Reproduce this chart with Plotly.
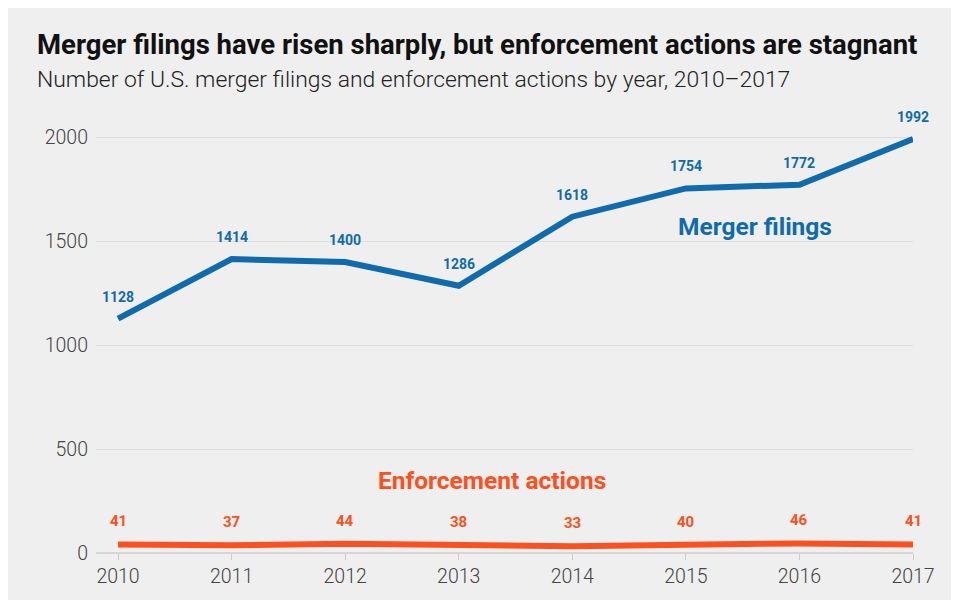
import plotly.graph_objects as go

years = [2010, 2011, 2012, 2013, 2014, 2015, 2016, 2017]
merger_filings = [1128, 1414, 1400, 1286, 1618, 1754, 1772, 1992]
enforcement_actions = [41, 37, 44, 38, 33, 40, 46, 41]
y_ticks = [0, 500, 1000, 1500, 2000]

BLUE = "#106bad"
ORANGE = "#fc5020"
FONT = "Roboto"
BG = "#efefef"

# figure-pixel geometry (page is offset by 8px body margin)
FIG_W, FIG_H = 960, 592
L, T = 88, 102
W_PLOT, H_PLOT = 817, 443
Y_PER_UNIT = 0.20785

def px_x(p):
    return (p - L) / W_PLOT

def px_y(p):
    return (T + H_PLOT - p) / H_PLOT

fig = go.Figure()
fig.add_trace(go.Scatter(x=years, y=merger_filings, mode="lines",
                         line=dict(color=BLUE, width=6), cliponaxis=False,
                         hoverinfo="x+y", showlegend=False))
fig.add_trace(go.Scatter(x=years, y=enforcement_actions, mode="lines",
                         line=dict(color=ORANGE, width=6), cliponaxis=False,
                         hoverinfo="x+y", showlegend=False))

annotations = []
for x, y in zip(years, merger_filings):
    annotations.append(dict(x=x, y=y, text=str(y), showarrow=False, yshift=22,
                            font=dict(family=FONT, size=14, color=BLUE, weight=700)))
for x, y in zip(years, enforcement_actions):
    annotations.append(dict(x=x, y=y, text=str(y), showarrow=False, yshift=23,
                            font=dict(family=FONT, size=15, color=ORANGE, weight=700)))

annotations.append(dict(x=2015.61, y=1573, text="Merger filings", showarrow=False,
                        font=dict(family=FONT, size=24.5, color=BLUE, weight=700)))
annotations.append(dict(x=2013.29, y=351, text="Enforcement actions", showarrow=False,
                        font=dict(family=FONT, size=24.5, color=ORANGE, weight=700)))

annotations.append(dict(xref="paper", yref="paper", x=px_x(27), y=px_y(37),
                        xanchor="left", yanchor="middle", showarrow=False,
                        text="Merger filings have risen sharply, but enforcement actions are stagnant",
                        font=dict(family=FONT, size=27.5, color="#111111", weight=700)))
annotations.append(dict(xref="paper", yref="paper", x=px_x(27), y=px_y(72),
                        xanchor="left", yanchor="middle", showarrow=False,
                        text="Number of U.S. merger filings and enforcement actions by year, 2010\u20132017",
                        font=dict(family=FONT, size=22.9, color="#222222", weight=300)))

fig.update_layout(
    width=FIG_W, height=FIG_H,
    margin=dict(l=L, r=FIG_W - L - W_PLOT, t=T, b=FIG_H - T - H_PLOT),
    paper_bgcolor=BG,
    plot_bgcolor=BG,
    annotations=annotations,
    xaxis=dict(range=[2009.806, 2017], tickvals=years, ticktext=[str(y) for y in years],
               showgrid=False, zeroline=False, showline=False,
               ticks="outside", ticklen=6, tickcolor="#cccccc", tickwidth=1,
               tickfont=dict(family=FONT, size=19.5, color="#444444", weight=300)),
    yaxis=dict(range=[0, H_PLOT / Y_PER_UNIT], tickvals=y_ticks,
               showgrid=True, gridcolor="#dcdcdc", gridwidth=1,
               zeroline=True, zerolinecolor="#d6d6d6", zerolinewidth=2,
               showline=False, ticks="", ticklabelstandoff=7,
               tickfont=dict(family=FONT, size=19.5, color="#444444", weight=300)),
)

fig.write_html(
    "out.html",
    post_script="document.documentElement.style.overflow='hidden';"
                "document.body.style.overflow='hidden';",
)
